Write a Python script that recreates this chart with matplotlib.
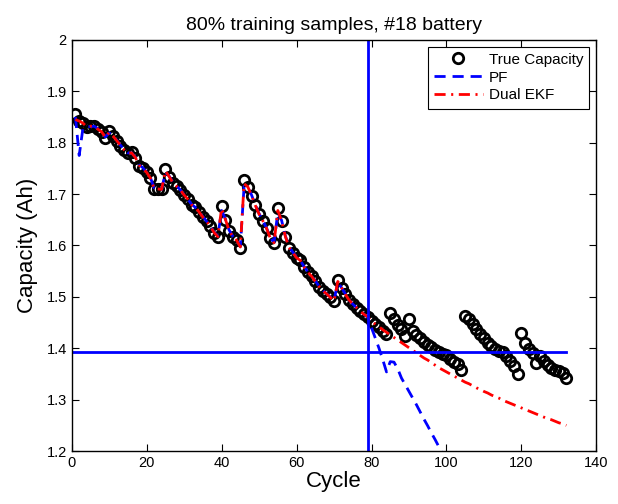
import matplotlib
matplotlib.use("Agg")
import matplotlib.pyplot as plt
from matplotlib.ticker import FuncFormatter

plt.rcParams["font.family"] = ["Liberation Sans", "DejaVu Sans"]
plt.rcParams["lines.scale_dashes"] = False

# measured capacity of battery #18, one value per cycle (1..132)
capacity = [
    1.855, 1.843, 1.839, 1.830, 1.833, 1.833, 1.826, 1.821, 1.809, 1.823,
    1.813, 1.804, 1.794, 1.786, 1.779, 1.781, 1.771, 1.755, 1.750, 1.742,
    1.731, 1.709, 1.710, 1.709, 1.749, 1.734, 1.722, 1.715, 1.708, 1.698,
    1.690, 1.679, 1.674, 1.665, 1.655, 1.647, 1.637, 1.625, 1.617, 1.677,
    1.650, 1.628, 1.617, 1.610, 1.596, 1.727, 1.714, 1.697, 1.678, 1.661,
    1.648, 1.633, 1.614, 1.605, 1.673, 1.648, 1.617, 1.595, 1.586, 1.576,
    1.571, 1.558, 1.548, 1.540, 1.530, 1.520, 1.512, 1.506, 1.499, 1.492,
    1.533, 1.518, 1.505, 1.494, 1.486, 1.479, 1.472, 1.466, 1.461, 1.453,
    1.448, 1.441, 1.434, 1.427, 1.469, 1.456, 1.446, 1.437, 1.423, 1.457,
    1.433, 1.426, 1.420, 1.413, 1.407, 1.402, 1.397, 1.392, 1.388, 1.386,
    1.380, 1.374, 1.369, 1.358, 1.463, 1.456, 1.447, 1.438, 1.428, 1.419,
    1.411, 1.405, 1.399, 1.394, 1.392, 1.385, 1.376, 1.366, 1.349, 1.429,
    1.411, 1.399, 1.391, 1.372, 1.384, 1.375, 1.367, 1.362, 1.358, 1.355,
    1.352, 1.342,
]
cycles = list(range(1, len(capacity) + 1))

# PF estimate (cycles 1..79 tracking, 80..100 prediction)
pf = [
    1.850, 1.775, 1.828, 1.832, 1.831, 1.832, 1.827, 1.822, 1.811, 1.819,
    1.814, 1.805, 1.795, 1.787, 1.780, 1.780, 1.772, 1.757, 1.751, 1.743,
    1.732, 1.712, 1.710, 1.709, 1.742, 1.735, 1.723, 1.716, 1.708, 1.699,
    1.690, 1.680, 1.674, 1.665, 1.656, 1.647, 1.638, 1.626, 1.618, 1.668,
    1.652, 1.630, 1.618, 1.610, 1.598, 1.715, 1.714, 1.698, 1.679, 1.662,
    1.648, 1.634, 1.615, 1.606, 1.664, 1.649, 1.619, 1.597, 1.587, 1.577,
    1.571, 1.559, 1.549, 1.540, 1.531, 1.521, 1.513, 1.506, 1.500, 1.493,
    1.528, 1.518, 1.506, 1.494, 1.486, 1.479, 1.472, 1.466, 1.460,
    1.440, 1.420, 1.400, 1.378, 1.354, 1.374, 1.373, 1.360, 1.342, 1.329,
    1.316, 1.303, 1.290, 1.276, 1.262, 1.249, 1.235, 1.222, 1.208, 1.194,
    1.180,
]
pf_cycles = list(range(1, len(pf) + 1))

# Dual EKF estimate (cycles 1..79 tracking, 80..132 prediction)
ekf = [
    1.845, 1.842, 1.838, 1.831, 1.832, 1.832, 1.826, 1.821, 1.810, 1.820,
    1.813, 1.804, 1.795, 1.786, 1.780, 1.780, 1.771, 1.756, 1.750, 1.742,
    1.731, 1.711, 1.710, 1.709, 1.745, 1.734, 1.722, 1.715, 1.708, 1.698,
    1.690, 1.679, 1.674, 1.665, 1.655, 1.647, 1.637, 1.625, 1.617, 1.672,
    1.651, 1.629, 1.617, 1.610, 1.597, 1.720, 1.714, 1.697, 1.678, 1.661,
    1.648, 1.633, 1.614, 1.605, 1.668, 1.648, 1.618, 1.596, 1.586, 1.576,
    1.571, 1.558, 1.548, 1.540, 1.530, 1.520, 1.512, 1.506, 1.499, 1.492,
    1.530, 1.518, 1.505, 1.494, 1.486, 1.479, 1.472, 1.466, 1.461,
    1.452, 1.447, 1.442, 1.436, 1.431, 1.426, 1.421, 1.416, 1.411, 1.406,
    1.401, 1.396, 1.391, 1.386, 1.381, 1.377, 1.372, 1.367, 1.362, 1.358,
    1.354, 1.350, 1.346, 1.342, 1.338, 1.334, 1.331, 1.327, 1.323, 1.320,
    1.316, 1.313, 1.309, 1.306, 1.303, 1.299, 1.296, 1.293, 1.290, 1.287,
    1.284, 1.281, 1.278, 1.275, 1.272, 1.269, 1.266, 1.263, 1.261, 1.258,
    1.255, 1.253, 1.250,
]
ekf_cycles = list(range(1, len(ekf) + 1))

start_cycle = 79
threshold = 1.393
threshold_span = [0, 132]

x_ticks = [0, 20, 40, 60, 80, 100, 120, 140]
y_ticks = [1.2, 1.3, 1.4, 1.5, 1.6, 1.7, 1.8, 1.9, 2.0]

fig = plt.figure(figsize=(6.18, 5.04), dpi=100)
ax = fig.add_axes([0.116, 0.105, 0.849, 0.816])

ax.plot(cycles, capacity, "o", color="black", mfc="none", ms=7.5, mew=2,
        label="True Capacity")
ax.plot(pf_cycles, pf, color="blue", lw=2, dashes=[8, 5], label="PF")
ax.plot(ekf_cycles, ekf, color="red", lw=2, dashes=[8, 4, 1.5, 4],
        label="Dual EKF")

ax.axvline(start_cycle, color="blue", lw=2)
ax.plot(threshold_span, [threshold, threshold], color="blue", lw=2)

ax.set_xlim(0, 140)
ax.set_ylim(1.2, 2.0)
ax.set_xticks(x_ticks)
ax.set_yticks(y_ticks)
ax.yaxis.set_major_formatter(FuncFormatter(lambda v, p: f"{v:g}"))
ax.tick_params(direction="in", top=True, right=True, labelsize=10.5,
               length=5, width=0.8)
for s in ax.spines.values():
    s.set_linewidth(1)

ax.set_xlabel("Cycle", fontsize=16, labelpad=1)
ax.set_ylabel("Capacity (Ah)", fontsize=16, labelpad=6)
ax.set_title("80% training samples, #18 battery", fontsize=14, pad=7)

leg = ax.legend(loc="upper right", fontsize=11, numpoints=1,
                handlelength=3.2, fancybox=False, framealpha=1,
                edgecolor="black", borderaxespad=0.45, labelspacing=0.25,
                handletextpad=0.4, borderpad=0.4)
leg.get_frame().set_linewidth(0.8)

fig.savefig("out.png", dpi=100)
